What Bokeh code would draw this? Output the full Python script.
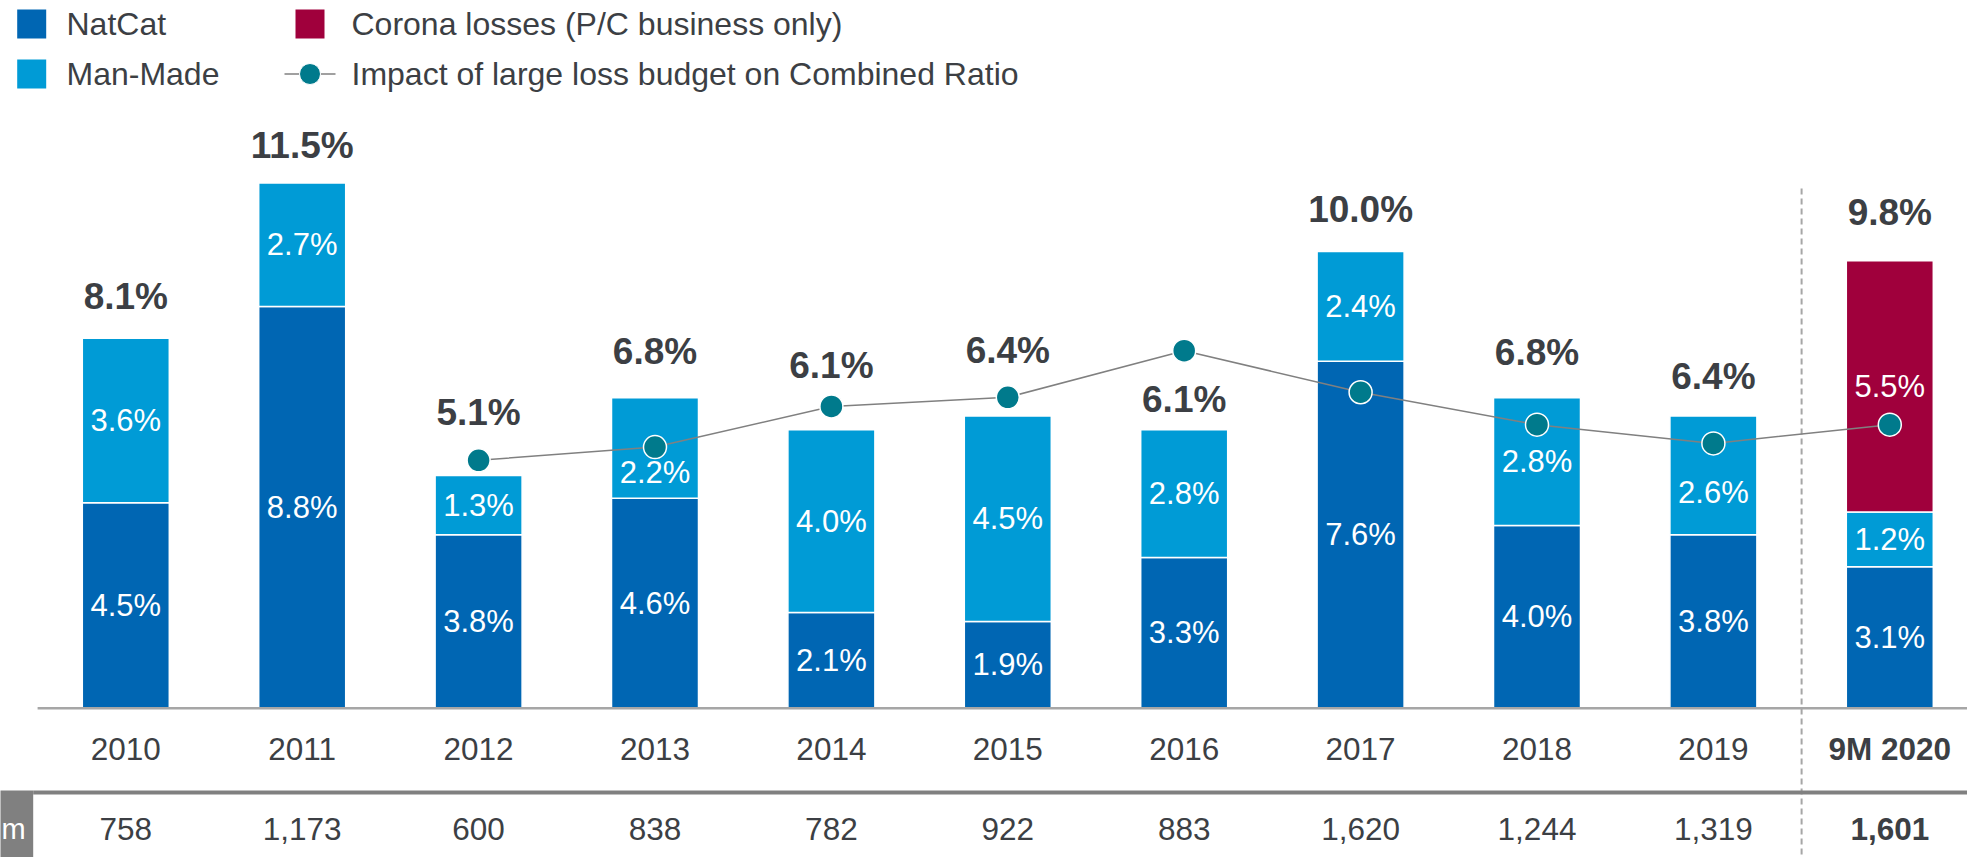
from bokeh.plotting import figure
from bokeh.models import Range1d, ColumnDataSource
from bokeh.embed import file_html
from bokeh.resources import INLINE
from bokeh.core.properties import value

# ---------------- data ----------------
categories = ["2010", "2011", "2012", "2013", "2014", "2015", "2016", "2017", "2018", "2019", "9M 2020"]
natcat = [4.5, 8.8, 3.8, 4.6, 2.1, 1.9, 3.3, 7.6, 4.0, 3.8, 3.1]
man_made = [3.6, 2.7, 1.3, 2.2, 4.0, 4.5, 2.8, 2.4, 2.8, 2.6, 1.2]
corona = [0, 0, 0, 0, 0, 0, 0, 0, 0, 0, 5.5]
totals = [8.1, 11.5, 5.1, 6.8, 6.1, 6.4, 6.1, 10.0, 6.8, 6.4, 9.8]
budget_categories = ["2012", "2013", "2014", "2015", "2016", "2017", "2018", "2019", "9M 2020"]
budget = [5.43, 5.72, 6.61, 6.81, 7.83, 6.92, 6.21, 5.80, 6.21]
large_losses = ["758", "1,173", "600", "838", "782", "922", "883", "1,620", "1,244", "1,319", "1,601"]
table_label = "m"

# ---------------- layout (pixels) ----------------
W, H = 1967, 857
ORIGIN = 0                       # page offset of the figure
X0_PX, DX_PX = 125.3, 176.4      # page x of first category centre, spacing
BASE_PX, PCT_PX = 707.8, 45.67   # page y of baseline, pixels per percentage point
total_gap_px = [42, 38, 63, 46, 64, 66, 30, 42, 45, 40, 48]
mm_label_shift_px = [0, 0, 0, 25, 0, 0, 0, 0, 0, 17, 0]

x_start = -(X0_PX - ORIGIN) / DX_PX
x_end = x_start + W / DX_PX
y_end = (BASE_PX - ORIGIN) / PCT_PX
y_start = -(ORIGIN + H - BASE_PX) / PCT_PX


def px2x(px):
    return (px - X0_PX) / DX_PX


def py2y(py):
    return (BASE_PX - py) / PCT_PX


NATCAT = "#0066B3"
MANMADE = "#009BD6"
CORONA = "#A0003C"
TEAL = "#007A8C"
DARK = "#3C3F44"
GRID = "#A6A6A6"
FONT = value("Liberation Sans")

p = figure(width=W, height=H, output_backend="svg", toolbar_location=None,
           x_range=Range1d(x_start, x_end), y_range=Range1d(y_start, y_end),
           min_border=0, outline_line_color=None, background_fill_color="white",
           border_fill_color="white")
p.xaxis.visible = False
p.yaxis.visible = False
p.xgrid.visible = False
p.ygrid.visible = False

idx = list(range(len(categories)))
nc_top = natcat
mm_top = [a + b for a, b in zip(natcat, man_made)]
co_top = [a + b for a, b in zip(mm_top, corona)]

src = ColumnDataSource(dict(
    x=idx, nc_top=nc_top, mm_top=mm_top, co_top=co_top,
    nc_mid=[v / 2 for v in natcat],
    mm_mid=[a + b / 2 - s / PCT_PX for a, b, s in zip(natcat, man_made, mm_label_shift_px)],
    nc_lab=["%.1f%%" % v for v in natcat],
    mm_lab=["%.1f%%" % v for v in man_made],
    tot_y=[t + g / PCT_PX for t, g in zip(totals, total_gap_px)],
    tot_lab=["%.1f%%" % v for v in totals],
))

bw = 87 / DX_PX
p.vbar(x="x", bottom=0, top="nc_top", width=bw, source=src, fill_color=NATCAT,
       line_color="white", line_width=1.5)
p.vbar(x="x", bottom="nc_top", top="mm_top", width=bw, source=src, fill_color=MANMADE,
       line_color="white", line_width=1.5)
ci = [i for i in idx if corona[i] > 0]
p.vbar(x=ci, bottom=[mm_top[i] for i in ci], top=[co_top[i] for i in ci], width=bw,
       fill_color=CORONA, line_color="white", line_width=1.5)

# baseline and dashed separator
p.segment(x0=[-0.5], y0=[0], x1=[px2x(1975)], y1=[0], line_color=GRID, line_width=2.5)
p.segment(x0=[len(categories) - 1.5], y0=[py2y(188)], x1=[len(categories) - 1.5], y1=[py2y(870)],
          line_color=GRID, line_width=2, line_dash="6 4")

# segment labels
SEG = "31px"
p.text(x="x", y="nc_mid", text="nc_lab", source=src, text_align="center", text_baseline="middle",
       text_font=FONT, text_font_size=SEG, text_color="white")
p.text(x="x", y="mm_mid", text="mm_lab", source=src, text_align="center", text_baseline="middle",
       text_font=FONT, text_font_size=SEG, text_color="white")
p.text(x=ci, y=[mm_top[i] + corona[i] / 2 for i in ci], text=["%.1f%%" % corona[i] for i in ci],
       text_align="center", text_baseline="middle", text_font=FONT, text_font_size=SEG,
       text_color="white")

# budget line
bx = [categories.index(c) for c in budget_categories]
p.line(bx, budget, line_color="#808080", line_width=1.5)
p.scatter(bx, budget, size=23, fill_color=TEAL, line_color="white", line_width=1.5)

# total labels
p.text(x="x", y="tot_y", text="tot_lab", source=src, text_align="center", text_baseline="middle",
       text_font=FONT, text_font_size="37px", text_font_style="bold", text_color=DARK)

# category labels
n = len(categories)
CAT = "31.5px"
p.text(x=idx[:-1], y=[py2y(748)] * (n - 1), text=categories[:-1], text_align="center",
       text_baseline="middle", text_font=FONT, text_font_size=CAT, text_color=DARK)
p.text(x=[idx[-1]], y=[py2y(748)], text=[categories[-1]], text_align="center",
       text_baseline="middle", text_font=FONT, text_font_size=CAT, text_font_style="bold",
       text_color=DARK)

# table row
p.quad(left=[px2x(-5)], right=[px2x(32.7)], top=[py2y(790)], bottom=[py2y(870)],
       fill_color="#808080", line_color=None)
p.segment(x0=[px2x(32.7)], y0=[py2y(792)], x1=[px2x(1975)], y1=[py2y(792)],
          line_color="#808080", line_width=4)
p.text(x=[px2x(1)], y=[py2y(828)], text=[table_label], text_align="left", text_baseline="middle",
       text_font=FONT, text_font_size="29px", text_color="white")
p.text(x=idx[:-1], y=[py2y(828)] * (n - 1), text=large_losses[:-1], text_align="center",
       text_baseline="middle", text_font=FONT, text_font_size=CAT, text_color=DARK)
p.text(x=[idx[-1]], y=[py2y(828)], text=[large_losses[-1]], text_align="center",
       text_baseline="middle", text_font=FONT, text_font_size=CAT, text_font_style="bold",
       text_color=DARK)

# legend
leg_names = ["NatCat", "Man-Made", "Corona losses (P/C business only)",
             "Impact of large loss budget on Combined Ratio"]
p.rect(x=[px2x(31.2), px2x(31.2), px2x(309.5)], y=[py2y(23.4), py2y(73.5), py2y(23.4)],
       width=29, height=29, width_units="screen", height_units="screen",
       fill_color=[NATCAT, MANMADE, CORONA], line_color=None)
p.segment(x0=[px2x(284)], y0=[py2y(73.5)], x1=[px2x(335)], y1=[py2y(73.5)],
          line_color="#808080", line_width=1.5)
p.scatter(x=[px2x(309.5)], y=[py2y(73.5)], size=21, fill_color=TEAL, line_color="white",
          line_width=1)
p.text(x=[px2x(66), px2x(66), px2x(351), px2x(351)],
       y=[py2y(23.4), py2y(73.5), py2y(23.4), py2y(73.5)], text=leg_names,
       text_align="left", text_baseline="middle", text_font=FONT, text_font_size="32px",
       text_color=DARK)

open("out.html", "w").write(file_html(p, INLINE))
